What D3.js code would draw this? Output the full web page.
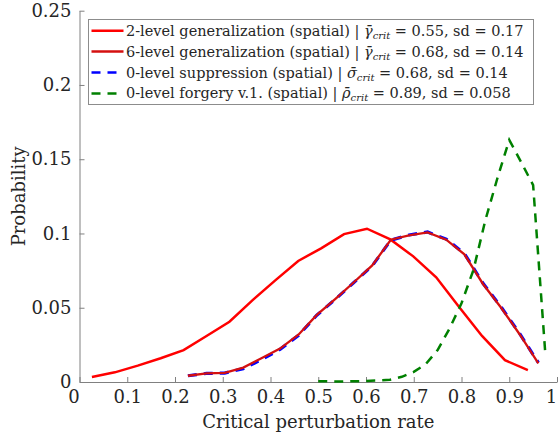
<!DOCTYPE html>
<html>
<head>
<meta charset="utf-8">
<script src="https://cdn.jsdelivr.net/npm/d3@7"></script>
<style>
  body { margin: 0; background: #fff; }
  text { font-family: "DejaVu Serif", "Liberation Serif", serif; fill: #262626; }
</style>
</head>
<body>
<div id="plot"></div>
<script>
// data
var gen2X = [0.026,0.074,0.122,0.170,0.218,0.266,0.314,0.362,0.410,0.458,0.506,0.554,0.602,0.651,0.699,0.747,0.795,0.843,0.891,0.939];
var gen2Y = [0.0034,0.0065,0.0110,0.0160,0.0215,0.0310,0.0406,0.0550,0.0684,0.0815,0.0900,0.0996,0.1032,0.0960,0.0846,0.0705,0.0505,0.0310,0.0147,0.0080];

var gen6X = [0.227,0.266,0.304,0.343,0.381,0.420,0.459,0.497,0.536,0.574,0.613,0.652,0.690,0.729,0.768,0.806,0.845,0.883,0.922,0.961];
var gen6Y = [0.0042,0.0058,0.0062,0.0097,0.0160,0.0225,0.0320,0.0452,0.0560,0.0670,0.0785,0.0958,0.0987,0.1007,0.0958,0.0860,0.0660,0.0500,0.0320,0.0126];

var supX = [0.227,0.266,0.304,0.343,0.381,0.420,0.459,0.497,0.536,0.574,0.613,0.652,0.690,0.729,0.768,0.806,0.845,0.883,0.922,0.961];
var supY = [0.0042,0.0058,0.0060,0.0090,0.0150,0.0220,0.0315,0.0450,0.0558,0.0668,0.0782,0.0955,0.0990,0.1010,0.0962,0.0865,0.0665,0.0505,0.0325,0.0130];

var forgX = [0.500,0.525,0.550,0.575,0.600,0.625,0.650,0.675,0.700,0.725,0.750,0.775,0.800,0.825,0.850,0.875,0.900,0.925,0.950,0.975];
var forgY = [0.0005,0.0004,0.0003,0.0005,0.0007,0.0010,0.0015,0.0035,0.0068,0.0120,0.0215,0.0360,0.0530,0.0754,0.1090,0.1370,0.1630,0.1480,0.1326,0.0215];

var xTicks = [0,0.1,0.2,0.3,0.4,0.5,0.6,0.7,0.8,0.9,1];
var xTickLabels = ["0","0.1","0.2","0.3","0.4","0.5","0.6","0.7","0.8","0.9","1"];
var yTicks = [0,0.05,0.1,0.15,0.2,0.25];
var yTickLabels = ["0","0.05","0.1","0.15","0.2","0.25"];

var legendNames = ["2-level generalization (spatial)","6-level generalization (spatial)","0-level suppression (spatial)","0-level forgery v.1. (spatial)"];
var legendSymbols = ["\u03b3","\u03b3","\u03c3","\u03c1"];
var legendMeans = ["0.55","0.68","0.68","0.89"];
var legendSds = ["0.17","0.14","0.14","0.058"];

var W = 558, H = 439;
var serif = "'DejaVu Serif', 'Liberation Serif', serif";
var svg = d3.select("#plot").append("svg")
  .attr("width", W).attr("height", H);

var x = d3.scaleLinear().domain([0, 1]).range([79.5, 557]);
var y = d3.scaleLinear().domain([0, 0.25]).range([382, 10.7]);

// axes, ticks pointing inward like matlab
var xAxis = svg.append("g")
  .attr("transform", "translate(0," + y(0) + ")")
  .call(d3.axisBottom(x).tickValues(xTicks).tickSizeInner(-5).tickSizeOuter(0).tickPadding(8)
    .tickFormat(function (d, i) { return xTickLabels[i]; }));
var yAxis = svg.append("g")
  .attr("transform", "translate(" + x(0) + ",0)")
  .call(d3.axisLeft(y).tickValues(yTicks).tickSizeInner(-5).tickSizeOuter(0).tickPadding(8)
    .tickFormat(function (d, i) { return yTickLabels[i]; }));

[xAxis, yAxis].forEach(function (a) {
  a.attr("font-family", null);
  a.select(".domain").attr("stroke", "#808080").attr("stroke-width", 1);
  a.selectAll(".tick line").attr("stroke", "#808080");
  a.selectAll(".tick text").style("font-family", serif)
    .style("font-size", "18px").attr("fill", "#262626");
});
// end labels of x axis sit a little inside
xAxis.selectAll(".tick text").filter(function (d) { return d == 0; }).attr("dx", "-6");
xAxis.selectAll(".tick text").filter(function (d) { return d == 1; }).attr("dx", "-6");

svg.append("text")
  .attr("x", (x(0) + x(1)) / 2).attr("y", 428)
  .attr("text-anchor", "middle")
  .style("font-family", serif)
  .style("font-size", "18px")
  .text("Critical perturbation rate");

svg.append("text")
  .attr("transform", "translate(25," + y(0.125) + ") rotate(-90)")
  .attr("text-anchor", "middle")
  .style("font-family", serif)
  .style("font-size", "18px")
  .text("Probability");

function lineOf(xs, ys) {
  return d3.line().x(function (d, i) { return x(xs[i]); }).y(function (d) { return y(d); })(ys);
}

var series = [
  { xs: gen2X, ys: gen2Y, color: "#ff0000", width: 2.5, dash: null },
  { xs: supX, ys: supY, color: "#0000ff", width: 3.2, dash: "9,7" },
  { xs: gen6X, ys: gen6Y, color: "#d41010", width: 2.3, dash: null },
  { xs: forgX, ys: forgY, color: "#008000", width: 2.5, dash: "9,7" }
];
series.forEach(function (s) {
  svg.append("path")
    .attr("d", lineOf(s.xs, s.ys))
    .attr("fill", "none")
    .attr("stroke", s.color)
    .attr("stroke-width", s.width)
    .attr("stroke-dasharray", s.dash);
});

// legend
var legColors = ["#ff0000", "#d41010", "#0000ff", "#008000"];
var legDash = [null, null, "9,7", "9,7"];
var legend = svg.append("g");
legend.append("rect")
  .attr("x", 88.5).attr("y", 19.5).attr("width", 445).attr("height", 85)
  .attr("fill", "#fff").attr("stroke", "#8c8c8c").attr("stroke-width", 1);

legendNames.forEach(function (name, i) {
  var ry = 30.7 + i * 20.9;
  legend.append("line")
    .attr("x1", 91.5).attr("x2", 123.5).attr("y1", ry).attr("y2", ry)
    .attr("stroke", legColors[i]).attr("stroke-width", 2.5)
    .attr("stroke-dasharray", legDash[i]);
  var t = legend.append("text")
    .attr("x", 126).attr("y", ry + 5)
    .style("font-family", serif)
    .style("font-size", "14.5px");
  t.append("tspan").text(name + " | ");
  t.append("tspan").style("font-style", "italic").text(legendSymbols[i] + "\u0304");
  t.append("tspan").style("font-style", "italic").style("font-size", "10px")
    .attr("dy", 3).text("crit");
  t.append("tspan").attr("dy", -3).text(" = " + legendMeans[i] + ", sd = " + legendSds[i]);
});
</script>
</body>
</html>
